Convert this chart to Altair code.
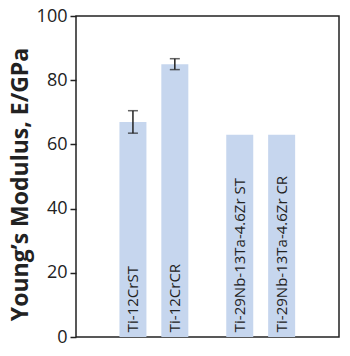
import altair as alt
import pandas as pd

alloys = ["Ti-12CrST", "Ti-12CrCR", "Ti-29Nb-13Ta-4.6Zr ST", "Ti-29Nb-13Ta-4.6Zr CR"]
positions = [1.0, 2.0, 3.55, 4.55]
modulus = [67, 85, 63, 63]
err = [3.5, 1.7, 0, 0]

df = pd.DataFrame({"alloy": alloys, "pos": positions, "E": modulus, "err": err})
df["lo"] = df["E"] - df["err"]
df["hi"] = df["E"] + df["err"]
df_err = df[df["err"] > 0]
df_cap = pd.concat([
    pd.DataFrame({"pos": df_err["pos"], "v": df_err["lo"]}),
    pd.DataFrame({"pos": df_err["pos"], "v": df_err["hi"]}),
])
df["labely"] = 1.5

FONT = "Open Sans"
xscale = alt.Scale(domain=[-0.24, 5.8], nice=False, zero=False)
yscale = alt.Scale(domain=[0, 100], nice=False)

xenc = alt.X("pos:Q", scale=xscale,
             axis=alt.Axis(labels=False, ticks=False, title=None, grid=False, domain=False))

bars = alt.Chart(df).mark_bar(color="#c6d6ee", size=27).encode(
    x=xenc,
    y=alt.Y("E:Q", scale=yscale, axis=alt.Axis(
        values=[0, 20, 40, 60, 80, 100], grid=False, tickSize=6, tickWidth=1.5,
        tickColor="#222", domain=False, labelFont=FONT, labelFontSize=18,
        labelColor="#222", labelPadding=3,
        title="Young’s Modulus, E/GPa", titleFont=FONT, titleFontSize=23,
        titleFontWeight="bold", titleColor="#222", titleAngle=270,
        titleX=-56, titleY=168, titleAlign="center", titleBaseline="middle")),
)

rules = alt.Chart(df_err).mark_rule(color="#222", strokeWidth=1.5).encode(
    x=alt.X("pos:Q", scale=xscale), y=alt.Y("lo:Q", scale=yscale), y2="hi:Q")

caps = alt.Chart(df_cap).mark_tick(color="#222", orient="horizontal", size=10, thickness=1.5).encode(
    x=alt.X("pos:Q", scale=xscale), y=alt.Y("v:Q", scale=yscale))

labels = alt.Chart(df).mark_text(angle=270, align="left", baseline="middle",
                                 font=FONT, fontSize=15, color="#222").encode(
    x=alt.X("pos:Q", scale=xscale), y=alt.Y("labely:Q", scale=yscale), text="alloy:N")

chart = alt.layer(bars, rules, caps, labels).properties(
    width=263, height=321,
    padding={"left": 76, "top": 16, "right": 11, "bottom": 19},
    autosize=alt.AutoSizeParams(type="none"),
    background="white",
).configure_view(stroke="#222", strokeWidth=1.5)

chart.save("out.html", embed_options={"renderer": "svg", "actions": False})
